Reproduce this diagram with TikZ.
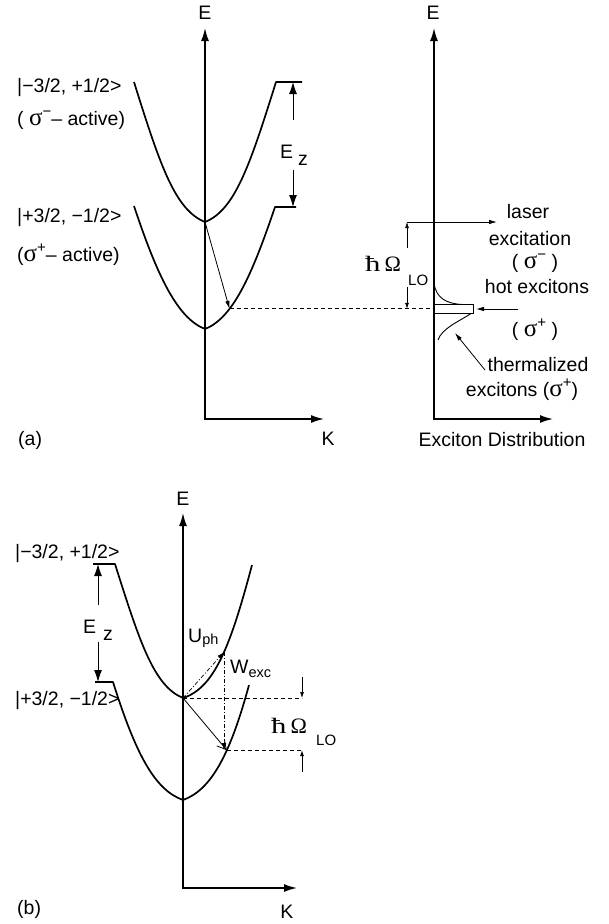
\documentclass[tikz,border=0pt]{standalone}
\usepackage{fontspec}
\usepackage{graphicx}
\setmainfont{Liberation Sans}
\newfontfamily\myserif{Liberation Serif}
\usetikzlibrary{arrows.meta}
\newcommand{\mysig}{{\myserif\fontsize{25}{25}\selectfont σ}}
\newcommand{\myup}[1]{\raisebox{8.5pt}{\fontsize{15}{15}\selectfont #1}}
\newcommand{\myhbar}{{\myserif\fontsize{22}{24}\selectfont\scalebox{1.4}[1]{ħ}\hspace{4pt}Ω}}
\begin{document}
\begin{tikzpicture}[x=1pt,y=-1pt,
  band/.style={line width=1.7pt, line join=round},
  axes/.style={line width=1.6pt, {Latex[length=13pt,width=8pt]}-{Latex[length=13pt,width=8pt]}},
  ezarrow/.style={line width=1pt, -{Latex[length=12pt,width=8pt]}},
  thinarrow/.style={line width=0.8pt, -{Latex[length=8pt,width=4.5pt]}},
  tinyarrow/.style={line width=0.7pt, -{Latex[length=6pt,width=4pt]}},
  dashline/.style={line width=0.8pt, dash pattern=on 4pt off 3pt},
  dashdot/.style={line width=0.7pt, dash pattern=on 4pt off 2pt on 1pt off 2pt},
  lbl/.style={font=\fontsize{19.5}{22}\selectfont, inner sep=0pt, anchor=base},
  lblw/.style={lbl, anchor=base west},
]
\path[use as bounding box] (0,0) rectangle (609,924);

% ---------------- panel (a), left ----------------
\coordinate (aO) at (205,419);
\coordinate (aEt) at (205,28);
\coordinate (aKt) at (324,419);
\draw[axes] (aEt) -- (aO) -- (aKt);

\coordinate (uL) at (134,82);
\coordinate (uB) at (205,222);
\coordinate (uR) at (276,82);
\coordinate (uRt) at (302,82);
\draw[band] (uL) .. controls (160,165) and (175,210) .. (uB)
  .. controls (235,210) and (250,165) .. (uR) -- (uRt);

\coordinate (lL) at (134,206);
\coordinate (lB) at (205,329);
\coordinate (lR) at (275,207);
\coordinate (lRt) at (296,207);
\draw[band] (lL) .. controls (157,275) and (177,318) .. (lB)
  .. controls (233,318) and (252,275) .. coordinate[pos=0.32] (aHit) (lR) -- (lRt);

\draw[thinarrow] (uB) -- (aHit);

\coordinate (ez1) at (293,120);
\coordinate (ez2) at (293,170);
\draw[ezarrow] (ez1) -- (ez1 |- uR);
\draw[ezarrow] (ez2) -- (ez2 |- lR);
\node[lblw] (Ez) at (280,158) {E\kern5pt\raisebox{-7pt}{z}};

\node[lblw] (s1) at (17,92) {|−3/2, +1/2>};
\node[lblw] (s1a) at (17,125) {( \mysig\myup{−}– active)};
\node[lblw] (s2) at (17,222) {|+3/2, −1/2>};
\node[lblw] (s2a) at (17,261) {(\mysig\myup{+}– active)};

\node[lbl] (Ea) at (205,19) {E};
\node[lbl] (Ka) at (328,445) {K};
\node[lblw] (pa) at (18,445) {(a)};

% ---------------- panel (a), right ----------------
\coordinate (bO) at (434,419);
\coordinate (bEt) at (434,28);
\coordinate (bKt) at (553,419);
\draw[axes] (bEt) -- (bO) -- (bKt);
\node[lbl] (Eb) at (433,19) {E};
\node[lbl] (xd) at (502,446) {Exciton Distribution};

\draw[dashline] (aHit) -- (aHit -| bO);

\coordinate (las0) at (407,222);
\coordinate (las1) at (497,222);
\draw[thinarrow] (las0) -- (las1);
\coordinate (hw1) at (407,248);
\coordinate (hw2) at (407,287);
\draw[tinyarrow] (hw1) -- (las0);
\draw[tinyarrow] (hw2) -- (hw2 |- aHit);
\node[lblw] (hb1) at (365,271) {\myhbar};
\node[lblw, font=\fontsize{15}{17}\selectfont] (lo1) at (408,285) {LO};

\coordinate (bx1) at (434,304.5);
\coordinate (bx2) at (473,313.5);
\draw[line width=1pt] (bx1) rectangle (bx2);
\draw[line width=0.9pt] (434,283) .. controls (436,298) and (446,303.5) .. (462,304.5);
\draw[line width=0.9pt] (471,313.5) .. controls (460,321) and (442,328) .. (438,340);

\coordinate (hot0) at (518,309);
\coordinate (hot1) at (476,309);
\draw[thinarrow] (hot0) -- (hot1);
\coordinate (th0) at (485,370);
\coordinate (th1) at (455,333);
\draw[thinarrow] (th0) -- (th1);

\node[lbl] (t1) at (528,218) {laser};
\node[lbl] (t2) at (530,245) {excitation};
\node[lbl] (t3) at (535,268) {( \mysig\myup{−} )};
\node[lbl] (t4) at (537,293) {hot excitons};
\node[lbl] (t5) at (535,336) {( \mysig\myup{+} )};
\node[lbl] (t6) at (538,371) {thermalized};
\node[lbl] (t7) at (522,396) {excitons (\mysig\myup{+})};

% ---------------- panel (b) ----------------
\coordinate (cO) at (183,888);
\coordinate (cEt) at (183,513);
\coordinate (cKt) at (297,888);
\draw[axes] (cEt) -- (cO) -- (cKt);

\coordinate (cuL0) at (93,564);
\coordinate (cuL) at (115,564);
\coordinate (cuB) at (183,698);
\coordinate (cuR) at (252,565);
\draw[band] (cuL0) -- (cuL) .. controls (140,643) and (154,686) .. (cuB)
  .. controls (214,688) and (230,648) .. coordinate[pos=0.55] (bUh) (cuR);

\coordinate (clL0) at (95,682);
\coordinate (clL) at (113,682);
\coordinate (clB) at (183,800);
\coordinate (clR) at (249,685);
\draw[band] (clL0) -- (clL) .. controls (136,755) and (155,790) .. (clB)
  .. controls (211,790) and (230,755) .. coordinate[pos=0.62] (bLh) (clR);

\coordinate (fz1) at (98,605);
\coordinate (fz2) at (98,642);
\draw[ezarrow] (fz1) -- (fz1 |- cuL);
\draw[ezarrow] (fz2) -- (fz2 |- clL);
\node[lblw] (Ez2) at (83,633) {E\kern7pt\raisebox{-7pt}{z}};

\draw[dashdot, -{Latex[length=7pt,width=4.5pt]}] (cuB) -- (bUh);
\draw[dashdot, -{Latex[length=7pt,width=4.5pt]}] (bUh) -- (bUh |- bLh);
\draw[line width=0.8pt, -{Straight Barb[length=9pt,width=10pt]}] (cuB) -- (bLh);

\coordinate (dd) at (302,698);
\draw[dashline] (cuB) -- (dd);
\draw[dashline] (bLh) -- (bLh -| dd);
\coordinate (sa1) at (302,677);
\coordinate (sa2) at (302,772);
\draw[tinyarrow] (sa1) -- (sa1 |- cuB);
\draw[tinyarrow] (sa2) -- (sa2 |- bLh);

\node[lblw] (hb2) at (271,733) {\myhbar};
\node[lblw, font=\fontsize{15}{17}\selectfont] (lo2) at (316,745) {LO};

\node[lblw] (U) at (188,642) {U\raisebox{-2pt}{\fontsize{14.5}{16}\selectfont ph}};
\node[lblw] (W) at (230,673) {W\raisebox{-4pt}{\fontsize{14.5}{16}\selectfont exc}};

\node[lblw] (s3) at (15,558) {|−3/2, +1/2>};
\node[lblw] (s4) at (15,705) {|+3/2, −1/2>};

\node[lbl] (Ec) at (183,505) {E};
\node[lbl] (Kc) at (287,918) {K};
\node[lblw] (pb) at (17,914) {(b)};
\end{tikzpicture}
\end{document}
